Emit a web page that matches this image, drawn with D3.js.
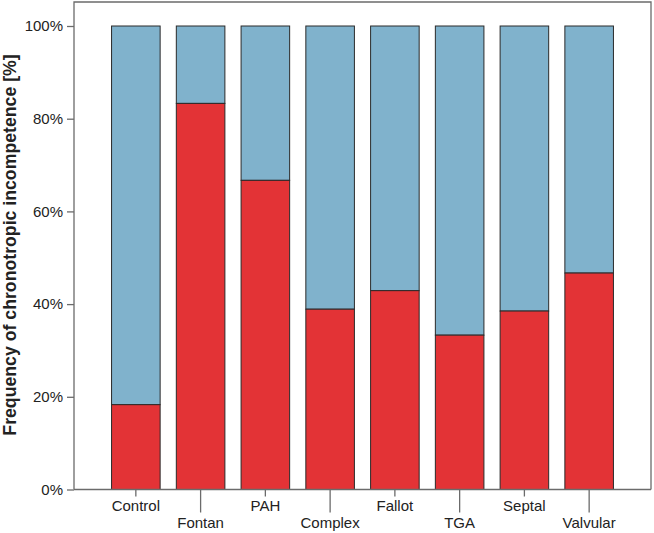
<!DOCTYPE html>
<html><head><meta charset="utf-8">
<script src="https://cdn.jsdelivr.net/npm/d3@7"></script>
<style>body{margin:0;background:#fff}svg{display:block}</style>
</head><body>
<svg id="c" width="654" height="533"></svg>
<script>
const categories = ["Control","Fontan","PAH","Complex","Fallot","TGA","Septal","Valvular"];
const incompetent = [0.183,0.833,0.667,0.389,0.429,0.333,0.385,0.467];
const yTicks = [0,0.2,0.4,0.6,0.8,1.0];

const svg = d3.select("#c");
const L = 74, R = 651, T = 2, B = 489.5, yTop = 26;
const x = d3.scaleBand().domain(categories).range([L, R]).paddingInner(0.25).paddingOuter(0.58);
const y = d3.scaleLinear().domain([0,1]).range([B, yTop]);
const font = "'Liberation Sans', Arial, sans-serif";

// frame
svg.append("path").attr("d", `M${L},${B}V${T}H${R}V${B}`).attr("fill","none").attr("stroke","#6b6b6b").attr("stroke-width",1.3);

// bars
const g = svg.append("g");
categories.forEach((c,i) => {
  g.append("rect").attr("x", x(c)).attr("width", x.bandwidth())
    .attr("y", y(1)).attr("height", y(incompetent[i]) - y(1))
    .attr("fill","#80b2cc").attr("stroke","#2a2a2a").attr("stroke-width",1);
  g.append("rect").attr("x", x(c)).attr("width", x.bandwidth())
    .attr("y", y(incompetent[i])).attr("height", y(0) - y(incompetent[i]))
    .attr("fill","#e33336").attr("stroke","#2a2a2a").attr("stroke-width",1);
});

// y axis
const yAxis = d3.axisLeft(y).tickValues(yTicks).tickFormat(d3.format(".0%")).tickSize(7).tickPadding(4);
const ya = svg.append("g").attr("transform",`translate(${L},0)`).call(yAxis);
ya.select(".domain").remove();
ya.selectAll("line").attr("stroke","#6b6b6b").attr("stroke-width",1.3);
ya.selectAll("text").attr("font-family",font).attr("font-size",15).attr("fill","#222");

// x axis
const xa = svg.append("g").attr("transform",`translate(0,${B})`);
xa.append("line").attr("x1",L).attr("x2",R).attr("stroke","#6b6b6b").attr("stroke-width",1.3);
categories.forEach((c,i) => {
  const cx = x(c) + x.bandwidth()/2;
  const len = i % 2 === 0 ? 7 : 23;
  xa.append("line").attr("x1",cx).attr("x2",cx).attr("y1",0).attr("y2",len).attr("stroke","#6b6b6b").attr("stroke-width",1.3);
  xa.append("text").attr("x",cx).attr("y", i % 2 === 0 ? 21 : 38).attr("text-anchor","middle")
    .attr("font-family",font).attr("font-size",15).attr("fill","#222").text(c);
});

// y title
svg.append("text").attr("transform",`translate(16,245) rotate(-90)`)
  .attr("text-anchor","middle").attr("font-family",font).attr("font-size",17.7).attr("font-weight","bold").attr("fill","#222")
  .text("Frequency of chronotropic incompetence [%]");
</script>
</body></html>
